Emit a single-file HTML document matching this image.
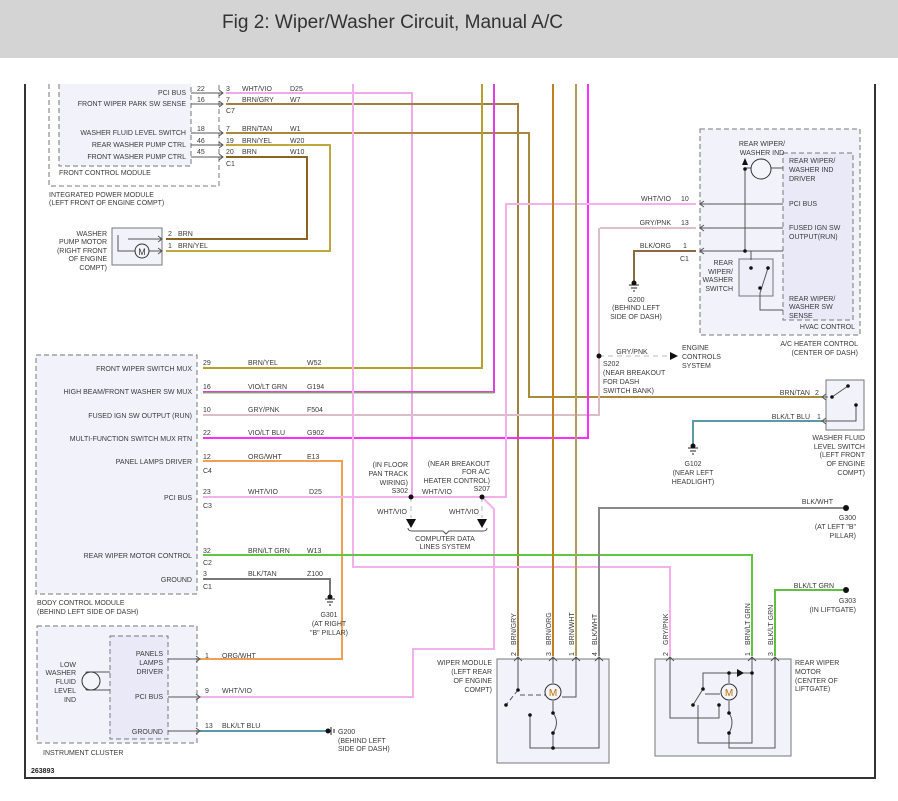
<!DOCTYPE html>
<html><head><meta charset="utf-8"><style>
html,body{margin:0;padding:0;background:#fff;}
svg{display:block;}
text{font-family:"Liberation Sans",Arial,sans-serif;font-size:7px;fill:#3a3a3a;}
.r{text-anchor:end}.m{text-anchor:middle}
</style></head><body>
<svg width="898" height="801" viewBox="0 0 898 801" xmlns="http://www.w3.org/2000/svg">
<rect x="0" y="0" width="898" height="58" fill="#d4d4d4"/>
<text x="222" y="28" style="font-size:19px;fill:#333" textLength="341" lengthAdjust="spacingAndGlyphs">Fig 2: Wiper/Washer Circuit, Manual A/C</text>
<!-- frame -->
<path d="M25 84 V778 H875 V84" fill="none" stroke="#333" stroke-width="2"/>

<!-- module boxes -->
<rect x="59" y="84" width="132" height="82" fill="#f2f2fb"/>
<g fill="none" stroke="#777" stroke-dasharray="5,3" stroke-width="1">
<path d="M49 84 V186 H219 V84"/>
<path d="M59 84 V166 H191 V84"/>
</g>
<g fill="#f2f2fb" stroke="#777" stroke-dasharray="5,3" stroke-width="1">
<rect x="36" y="355" width="161" height="239"/>
<rect x="37" y="626" width="160" height="117"/>
<rect x="110" y="636" width="58" height="103" fill="#e9e9f7"/>
<rect x="700" y="129" width="160" height="206"/>
<rect x="783" y="153" width="70" height="167" fill="#e9e9f7"/>
</g>
<g fill="#f2f2fb" stroke="#777" stroke-width="1">
<rect x="112" y="228" width="50" height="37"/>
<rect x="826" y="380" width="38" height="50"/>
<rect x="497" y="659" width="112" height="104"/>
<rect x="655" y="659" width="136" height="97"/>
<rect x="739" y="259" width="34" height="37" fill="#eeeef8"/>
</g>

<!-- wires -->
<g fill="none" stroke-width="2">
<path d="M226 93 H412 V497" stroke="#f0a8e8"/>
<path d="M226 104 H518 V656" stroke="#a08040"/>
<path d="M226 133 H529 V397 H822" stroke="#a88a3a"/>
<path d="M226 145 H330 V251 H166" stroke="#c0a840"/>
<path d="M226 157 H307 V239 H166" stroke="#8a6420"/>
<path d="M482 84 V368 H203" stroke="#b8a030"/>
<path d="M494 84 V392 H203" stroke="#e040e0"/>
<path d="M203 393 H494" stroke="#70c850" stroke-width="1"/>
<path d="M599 228 V415 H203" stroke="#dcbcc8"/>
<path d="M588 84 V438 H203" stroke="#ff30ff"/>
<path d="M203 461 H342 V659 H200" stroke="#f0a050"/>
<path d="M203 497 H506 V204 H696" stroke="#f4b0ec"/>
<path d="M482 497 L494 509 V649 H413 V697 H200" stroke="#f4b0ec"/>
<path d="M353 84 V567 H670 V656" stroke="#f4b0ec"/>
<path d="M203 555 H752 V656" stroke="#60c840"/>
<path d="M203 579 H330 V597" stroke="#777"/>
<path d="M553 84 V656" stroke="#c08020"/>
<path d="M576 84 V656" stroke="#b0a060"/>
<path d="M599 656 V508 H843" stroke="#888"/>
<path d="M775 656 V590 H843" stroke="#60c040"/>
<path d="M600 228 H696" stroke="#dcbcc8"/>
<path d="M696 251 H634 V283" stroke="#8a6a40"/>
<path d="M822 421 H693 V446" stroke="#5a9aa8"/>
<path d="M200 731 H328" stroke="#5a9aa8"/>
</g>
<g stroke="#bbb" stroke-dasharray="5,4" stroke-width="1" fill="none">
<path d="M599 356 H670"/><path d="M411 497 V518"/><path d="M482 497 V518"/>
</g>
<path d="M670 352 L678 356 L670 360Z" fill="#111"/>
<path d="M406 519 L416 519 L411 528Z M477 519 L487 519 L482 528Z" fill="#111"/>
<path d="M408 528 Q408 531 412 531 H443 L446 534 L449 531 H483 Q487 531 487 528" fill="none" stroke="#555" stroke-width="1"/>
<g fill="#111"><circle cx="599" cy="356" r="2.5"/><circle cx="411" cy="497" r="2.5"/><circle cx="482" cy="497" r="2.5"/></g>

<!-- connector chevrons -->
<g fill="none" stroke="#555" stroke-width="1">
<path d="M191 93 H223 M219 90 L223 93 L219 96 M191 104 H223 M219 101 L223 104 L219 107 M191 133 H223 M219 130 L223 133 L219 136 M191 145 H223 M219 142 L223 145 L219 148 M191 157 H223 M219 154 L223 157 L219 160"/>
<path d="M128 239 H162 M158 236 L162 239 L158 242 M118 235 V251 H162 M158 248 L162 251 L158 254"/>
<path d="M168 659 H200 M196 656 L200 659 L196 662 M168 697 H200 M196 694 L200 697 L196 700 M168 731 H200 M196 728 L200 731 L196 734"/>
<path d="M700 204 H783 M704 201 L700 204 L704 207 M700 228 H783 M704 225 L700 228 L704 231 M700 251 H783 M704 248 L700 251 L704 254"/>
<path d="M828 397 H822 M826 394 L822 397 L826 400 M826 418 L822 421 L826 424 M822 421 H856 V405"/>
<path d="M848 386 L832 397"/>
<path d="M745 168 V251 M745 168 H783 M751 260 V251 M745 251 H783"/>
<path d="M760 293 L768 268 M760 293 V310 H783"/>
<path d="M518 657 V690 M514 661 L518 657 L522 661 M553 657 V683 M549 661 L553 657 L557 661 M576 657 V697 H562 M572 661 L576 657 L580 661 M599 657 V748 H530 V715 M595 661 L599 657 L603 661"/>
<path d="M518 690 L506 705 M520 695 H546" stroke-dasharray="5,3"/>
<path d="M553 701 V713 Q560 722 553 733 V748"/>
<path d="M670 657 V718 H719 V705 M666 661 L670 657 L674 661 M752 657 V743 H698 V705 M748 661 L752 657 L756 661 M775 657 V748 H729 V733 M771 661 L775 657 L779 661"/>
<path d="M693 705 L703 689 V673 H729 V683 M729 673 H752 M705 694 H720" />
<path d="M729 701 V713 Q735 722 729 733"/>
<path d="M86 672 H110 M86 690 H110 M86 672 V690"/>
</g>
<g fill="#111">
<circle cx="518" cy="690" r="1.8"/><circle cx="506" cy="705" r="1.8"/><circle cx="530" cy="715" r="1.8"/><circle cx="553" cy="713" r="1.8"/><circle cx="553" cy="733" r="1.8"/><circle cx="553" cy="748" r="1.8"/>
<circle cx="703" cy="689" r="1.8"/><circle cx="693" cy="705" r="1.8"/><circle cx="719" cy="705" r="1.8"/><circle cx="729" cy="673" r="1.8"/><circle cx="752" cy="673" r="1.8"/><circle cx="729" cy="713" r="1.8"/><circle cx="729" cy="733" r="1.8"/>
<circle cx="745" cy="169" r="1.8"/><circle cx="745" cy="251" r="1.8"/><circle cx="751" cy="268" r="1.8"/><circle cx="768" cy="268" r="1.8"/><circle cx="760" cy="288" r="1.8"/>
<circle cx="832" cy="397" r="1.8"/><circle cx="848" cy="386" r="1.8"/><circle cx="856" cy="405" r="1.8"/>
<path d="M742 165 L745 158 L748 165Z M737 669 L744 673 L737 677Z"/>
</g>
<!-- motors / lamp -->
<g fill="#f4f4fb" stroke="#333" stroke-width="1">
<circle cx="553" cy="692" r="8"/><circle cx="729" cy="692" r="8"/><circle cx="142" cy="251" r="7"/>
<circle cx="761" cy="169" r="10"/><circle cx="91" cy="681" r="9"/>
</g>
<g style="font-size:10px" class="m"><text x="553" y="696" class="m" style="font-size:10px;fill:#c07000">M</text><text x="729" y="696" class="m" style="font-size:10px;fill:#c07000">M</text><text x="142" y="255" class="m" style="font-size:9px">M</text></g>
<!-- grounds -->
<g stroke="#222" stroke-width="1">
<path d="M629 285 H639 M631 288 H637 M633 291 H635 M325 599 H335 M327 602 H333 M329 605 H331 M688 448 H698 M690 451 H696 M692 454 H694 M331 727 V735 M334 729 V733"/>
</g>
<g fill="#111"><circle cx="634" cy="283" r="2.5"/><circle cx="330" cy="597" r="2.5"/><circle cx="693" cy="446" r="2.5"/><circle cx="328" cy="731" r="2.5"/><circle cx="846" cy="508" r="3"/><circle cx="846" cy="590" r="3"/></g>

<!-- IPM text -->
<text x="186" y="95" class="r">PCI BUS</text>
<text x="186" y="106" class="r">FRONT WIPER PARK SW SENSE</text>
<text x="186" y="135" class="r">WASHER FLUID LEVEL SWITCH</text>
<text x="186" y="147" class="r">REAR WASHER PUMP CTRL</text>
<text x="186" y="159" class="r">FRONT WASHER PUMP CTRL</text>
<text x="197" y="91">22</text><text x="197" y="102">16</text><text x="197" y="131">18</text><text x="197" y="143">46</text><text x="197" y="154">45</text>
<text x="226" y="91">3</text><text x="226" y="102">7</text><text x="226" y="131">7</text><text x="226" y="143">19</text><text x="226" y="154">20</text>
<text x="226" y="113">C7</text><text x="226" y="166">C1</text>
<text x="242" y="91">WHT/VIO</text><text x="290" y="91">D25</text>
<text x="242" y="102">BRN/GRY</text><text x="290" y="102">W7</text>
<text x="242" y="131">BRN/TAN</text><text x="290" y="131">W1</text>
<text x="242" y="143">BRN/YEL</text><text x="290" y="143">W20</text>
<text x="242" y="154">BRN</text><text x="290" y="154">W10</text>
<text x="59" y="175">FRONT CONTROL MODULE</text>
<text x="49" y="197">INTEGRATED POWER MODULE</text>
<text x="49" y="205">(LEFT FRONT OF ENGINE COMPT)</text>
<text x="107" y="236" class="r">WASHER</text><text x="107" y="244" class="r">PUMP MOTOR</text><text x="107" y="253" class="r">(RIGHT FRONT</text><text x="107" y="261" class="r">OF ENGINE</text><text x="107" y="270" class="r">COMPT)</text>
<text x="168" y="236">2</text><text x="178" y="236">BRN</text><text x="168" y="248">1</text><text x="178" y="248">BRN/YEL</text>

<!-- HVAC -->
<text x="762" y="146" class="m">REAR WIPER/</text><text x="762" y="155" class="m">WASHER IND</text>
<text x="789" y="163">REAR WIPER/</text><text x="789" y="172">WASHER IND</text><text x="789" y="181">DRIVER</text>
<text x="789" y="206">PCI BUS</text>
<text x="789" y="230">FUSED IGN SW</text><text x="789" y="239">OUTPUT(RUN)</text>
<text x="789" y="301">REAR WIPER/</text><text x="789" y="309">WASHER SW</text><text x="789" y="318">SENSE</text>
<text x="855" y="329" class="r">HVAC CONTROL</text>
<text x="858" y="346" class="r">A/C HEATER CONTROL</text><text x="858" y="355" class="r">(CENTER OF DASH)</text>
<text x="733" y="265" class="r">REAR</text><text x="733" y="274" class="r">WIPER/</text><text x="733" y="282" class="r">WASHER</text><text x="733" y="291" class="r">SWITCH</text>
<text x="671" y="201" class="r">WHT/VIO</text><text x="681" y="201">10</text>
<text x="671" y="225" class="r">GRY/PNK</text><text x="681" y="225">13</text>
<text x="671" y="248" class="r">BLK/ORG</text><text x="683" y="248">1</text>
<text x="680" y="261">C1</text>
<text x="636" y="302" class="m">G200</text><text x="636" y="310" class="m">(BEHIND LEFT</text><text x="636" y="319" class="m">SIDE OF DASH)</text>
<text x="632" y="354" class="m">GRY/PNK</text>
<text x="682" y="350">ENGINE</text><text x="682" y="359">CONTROLS</text><text x="682" y="368">SYSTEM</text>
<text x="603" y="366">S202</text><text x="603" y="375">(NEAR BREAKOUT</text><text x="603" y="384">FOR DASH</text><text x="603" y="393">SWITCH BANK)</text>
<text x="810" y="395" class="r">BRN/TAN</text><text x="815" y="395">2</text>
<text x="810" y="419" class="r">BLK/LT BLU</text><text x="817" y="419">1</text>
<text x="865" y="440" class="r">WASHER FLUID</text><text x="865" y="449" class="r">LEVEL SWITCH</text><text x="865" y="457" class="r">(LEFT FRONT</text><text x="865" y="466" class="r">OF ENGINE</text><text x="865" y="475" class="r">COMPT)</text>
<text x="693" y="466" class="m">G102</text><text x="693" y="475" class="m">(NEAR LEFT</text><text x="693" y="484" class="m">HEADLIGHT)</text>

<!-- BCM -->
<text x="192" y="371" class="r">FRONT WIPER SWITCH MUX</text>
<text x="192" y="394" class="r">HIGH BEAM/FRONT WASHER SW MUX</text>
<text x="192" y="418" class="r">FUSED IGN SW OUTPUT (RUN)</text>
<text x="192" y="441" class="r">MULTI-FUNCTION SWITCH MUX RTN</text>
<text x="192" y="464" class="r">PANEL LAMPS DRIVER</text>
<text x="192" y="500" class="r">PCI BUS</text>
<text x="192" y="558" class="r">REAR WIPER MOTOR CONTROL</text>
<text x="192" y="582" class="r">GROUND</text>
<text x="203" y="365">29</text><text x="203" y="389">16</text><text x="203" y="412">10</text><text x="203" y="435">22</text><text x="203" y="459">12</text><text x="203" y="494">23</text><text x="203" y="553">32</text><text x="203" y="576">3</text>
<text x="203" y="473">C4</text><text x="203" y="508">C3</text><text x="203" y="565">C2</text><text x="203" y="589">C1</text>
<text x="248" y="365">BRN/YEL</text><text x="307" y="365">W52</text>
<text x="248" y="389">VIO/LT GRN</text><text x="307" y="389">G194</text>
<text x="248" y="412">GRY/PNK</text><text x="307" y="412">F504</text>
<text x="248" y="435">VIO/LT BLU</text><text x="307" y="435">G902</text>
<text x="248" y="459">ORG/WHT</text><text x="307" y="459">E13</text>
<text x="248" y="494">WHT/VIO</text><text x="309" y="494">D25</text>
<text x="248" y="553">BRN/LT GRN</text><text x="307" y="553">W13</text>
<text x="248" y="576">BLK/TAN</text><text x="307" y="576">Z100</text>
<text x="37" y="605">BODY CONTROL MODULE</text><text x="37" y="614">(BEHIND LEFT SIDE OF DASH)</text>
<text x="329" y="617" class="m">G301</text><text x="329" y="626" class="m">(AT RIGHT</text><text x="329" y="635" class="m">"B" PILLAR)</text>
<text x="408" y="467" class="r">(IN FLOOR</text><text x="408" y="476" class="r">PAN TRACK</text><text x="408" y="485" class="r">WIRING)</text><text x="408" y="493" class="r">S302</text>
<text x="490" y="466" class="r">(NEAR BREAKOUT</text><text x="490" y="474" class="r">FOR A/C</text><text x="490" y="483" class="r">HEATER CONTROL)</text><text x="490" y="491" class="r">S207</text>
<text x="422" y="494">WHT/VIO</text>
<text x="377" y="514">WHT/VIO</text><text x="449" y="514">WHT/VIO</text>
<text x="445" y="541" class="m">COMPUTER DATA</text><text x="445" y="549" class="m">LINES SYSTEM</text>

<!-- cluster -->
<text x="163" y="656" class="r">PANELS</text><text x="163" y="665" class="r">LAMPS</text><text x="163" y="674" class="r">DRIVER</text>
<text x="163" y="699" class="r">PCI BUS</text><text x="163" y="734" class="r">GROUND</text>
<text x="76" y="667" class="r">LOW</text><text x="76" y="675" class="r">WASHER</text><text x="76" y="684" class="r">FLUID</text><text x="76" y="693" class="r">LEVEL</text><text x="76" y="702" class="r">IND</text>
<text x="205" y="658">1</text><text x="222" y="658">ORG/WHT</text>
<text x="205" y="693">9</text><text x="222" y="693">WHT/VIO</text>
<text x="205" y="728">13</text><text x="222" y="728">BLK/LT BLU</text>
<text x="338" y="734">G200</text><text x="338" y="743">(BEHIND LEFT</text><text x="338" y="751">SIDE OF DASH)</text>
<text x="43" y="755">INSTRUMENT CLUSTER</text>
<text x="31" y="773" style="font-weight:bold;fill:#222">263893</text>

<!-- bottom right -->
<text x="833" y="504" class="r">BLK/WHT</text>
<text x="856" y="520" class="r">G300</text><text x="856" y="529" class="r">(AT LEFT "B"</text><text x="856" y="538" class="r">PILLAR)</text>
<text x="834" y="588" class="r">BLK/LT GRN</text>
<text x="856" y="603" class="r">G303</text><text x="856" y="612" class="r">(IN LIFTGATE)</text>
<text x="492" y="665" class="r">WIPER MODULE</text><text x="492" y="674" class="r">(LEFT REAR</text><text x="492" y="683" class="r">OF ENGINE</text><text x="492" y="692" class="r">COMPT)</text>
<text x="795" y="665">REAR WIPER</text><text x="795" y="674">MOTOR</text><text x="795" y="683">(CENTER OF</text><text x="795" y="691">LIFTGATE)</text>
<g>
<text transform="translate(516,645) rotate(-90)">BRN/GRY</text><text transform="translate(516,656) rotate(-90)">2</text>
<text transform="translate(551,645) rotate(-90)">BRN/ORG</text><text transform="translate(551,656) rotate(-90)">3</text>
<text transform="translate(574,645) rotate(-90)">BRN/WHT</text><text transform="translate(574,656) rotate(-90)">1</text>
<text transform="translate(597,645) rotate(-90)">BLK/WHT</text><text transform="translate(597,656) rotate(-90)">4</text>
<text transform="translate(668,645) rotate(-90)">GRY/PNK</text><text transform="translate(668,656) rotate(-90)">2</text>
<text transform="translate(750,645) rotate(-90)">BRN/LT GRN</text><text transform="translate(750,656) rotate(-90)">1</text>
<text transform="translate(773,645) rotate(-90)">BLK/LT GRN</text><text transform="translate(773,656) rotate(-90)">3</text>
</g>
</svg>
</body></html>
